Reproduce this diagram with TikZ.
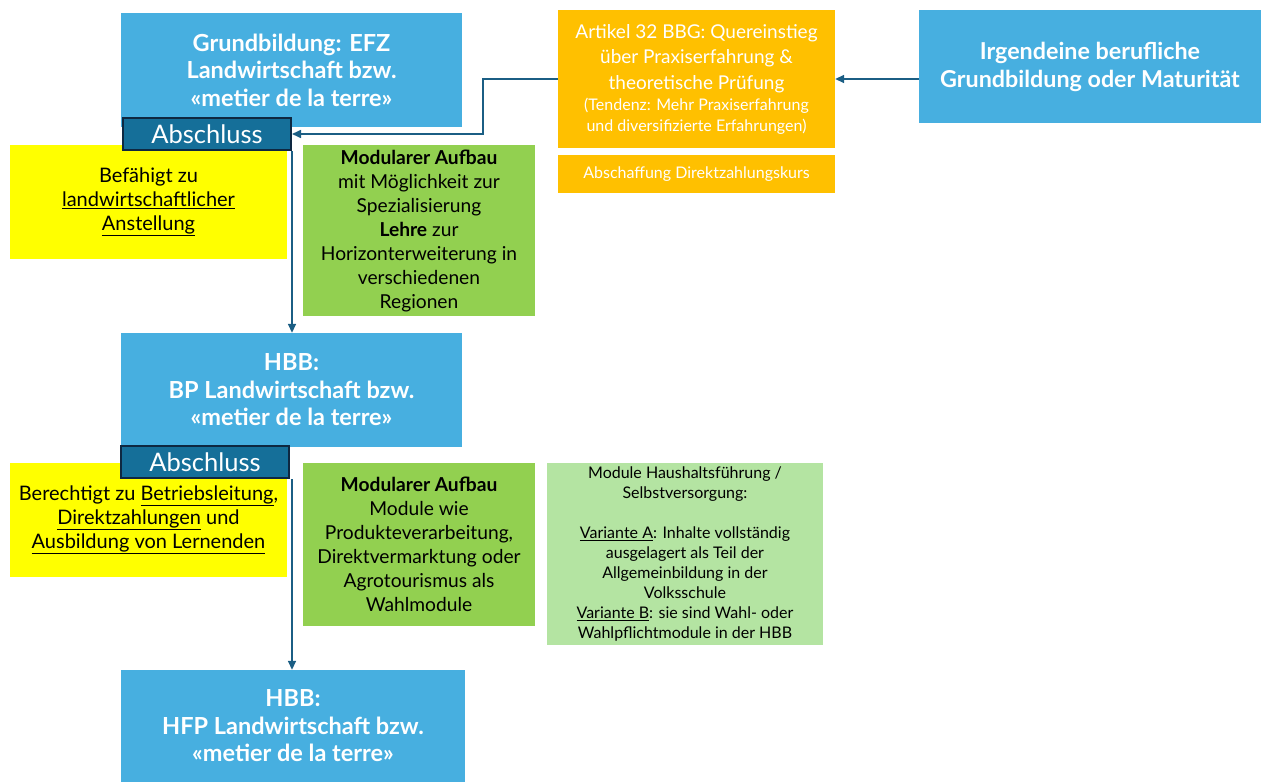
\documentclass[tikz,border=0pt]{standalone}
\usepackage{fontspec}
\setmainfont{Lato}
\usetikzlibrary{positioning,arrows.meta}
\definecolor{boxblue}{HTML}{47AFE0}
\definecolor{abschlussblue}{HTML}{156F99}
\definecolor{abschlussrand}{HTML}{0E2841}
\definecolor{pfeilblau}{HTML}{1B5E84}
\definecolor{gelb}{HTML}{FFFF00}
\definecolor{gruen}{HTML}{92D050}
\definecolor{hellgruen}{HTML}{B4E4A2}
\definecolor{orangebox}{HTML}{FFC000}
\tikzstyle{stufe}=[fill=boxblue,text=white,font=\bfseries\fontsize{23.5}{27.5}\selectfont,align=center,minimum width=341pt,minimum height=114pt,inner sep=0pt]
\tikzstyle{abschluss}=[fill=abschlussblue,draw=abschlussrand,line width=2pt,text=white,font=\fontsize{25.5}{28}\selectfont,minimum width=168pt,minimum height=32pt,inner sep=0pt]
\tikzstyle{info}=[fill=gelb,font=\fontsize{20}{24}\selectfont,align=center,minimum width=277pt,minimum height=114pt,inner sep=0pt]
\tikzstyle{modul}=[fill=gruen,font=\fontsize{19.2}{24}\selectfont,align=center,minimum width=232pt,inner sep=0pt]
\tikzstyle{pfeil}=[draw=pfeilblau,line width=1.6pt,-{Triangle[length=9pt,width=8pt]}]
\newcommand{\klein}{\fontsize{16}{21}\selectfont}

\begin{document}
\begin{tikzpicture}[x=1pt,y=-1pt]

	\useasboundingbox (0,0) rectangle (1261,782);

	\node[stufe] (efz) at (291.5,70) {Grundbildung: EFZ\\Landwirtschaft bzw.\\«metier de la terre»};
	\node[stufe] (bp) at (291.5,390) {HBB:\\BP Landwirtschaft bzw.\\«metier de la terre»};
	\node[stufe,minimum width=344pt,minimum height=112pt] (hfp) at (293,726) {HBB:\\HFP Landwirtschaft bzw.\\«metier de la terre»};
	\node[stufe,font=\bfseries\fontsize{23.3}{28}\selectfont,minimum width=342pt,minimum height=113pt] (beliebig) at (1090,66.5) {Irgendeine berufliche\\Grundbildung oder Maturität};

	\node[info] (befaehigt) at (148.5,202) {Befähigt zu\\\underline{landwirtschaftlicher}\\\underline{Anstellung}};
	\node[info] (berechtigt) at (148.5,520) {Berechtigt zu \underline{Betriebsleitung},\\\underline{Direktzahlungen} und\\\underline{Ausbildung von Lernenden}};

	\node[modul,minimum height=171pt] (modulEFZ) at (419,230.5) {\textbf{Modularer Aufbau}\\mit Möglichkeit zur\\Spezialisierung\\\textbf{Lehre} zur\\Horizonterweiterung in\\verschiedenen\\Regionen};
	\node[modul,minimum height=163pt] (modulBP) at (419,544.5) {\textbf{Modularer Aufbau}\\Module wie\\Produkteverarbeitung,\\Direktvermarktung oder\\Agrotourismus als\\Wahlmodule};
	\node[modul,fill=hellgruen,font=\fontsize{16}{19.9}\selectfont,minimum width=276pt,minimum height=182pt] (haushalt) at (685,554) {Module Haushaltsführung /\\Selbstversorgung:\\[19.9pt]\underline{Variante A}: Inhalte vollständig\\ausgelagert als Teil der\\Allgemeinbildung in der\\Volksschule\\\underline{Variante B}: sie sind Wahl- oder\\Wahlpflichtmodule in der HBB};

	\node[fill=orangebox,text=white,font=\fontsize{19}{25.5}\selectfont,align=center,minimum width=277pt,minimum height=138pt,inner sep=0pt] (art32) at (696.5,79) {Artikel 32 BBG: Quereinstieg\\über Praxiserfahrung \&\\theoretische Prüfung\\[-4.5pt]\klein(Tendenz: Mehr Praxiserfahrung\\[-4.5pt]\klein und diversifizierte Erfahrungen)};
	\node[fill=orangebox,text=white,font=\klein,minimum width=277pt,minimum height=38pt,inner sep=0pt,below=7pt of art32] (direkt) {Abschaffung Direktzahlungskurs};

	\node[abschluss] (absEFZ) at (207,134) {Abschluss};
	\node[abschluss] (absBP) at (205,462) {Abschluss};

	\coordinate (knick) at (483,79);

	\draw[pfeil] (beliebig.west |- art32.east) -- (art32.east);
	\draw[pfeil] (art32.west) -- (knick) |- (absEFZ.east);
	\draw[pfeil] (absEFZ.south east) -- (absEFZ.south east |- bp.north);
	\draw[pfeil] ([xshift=2pt]absBP.south east) -- ([xshift=2pt]absBP.south east |- hfp.north);

\end{tikzpicture}
\end{document}
